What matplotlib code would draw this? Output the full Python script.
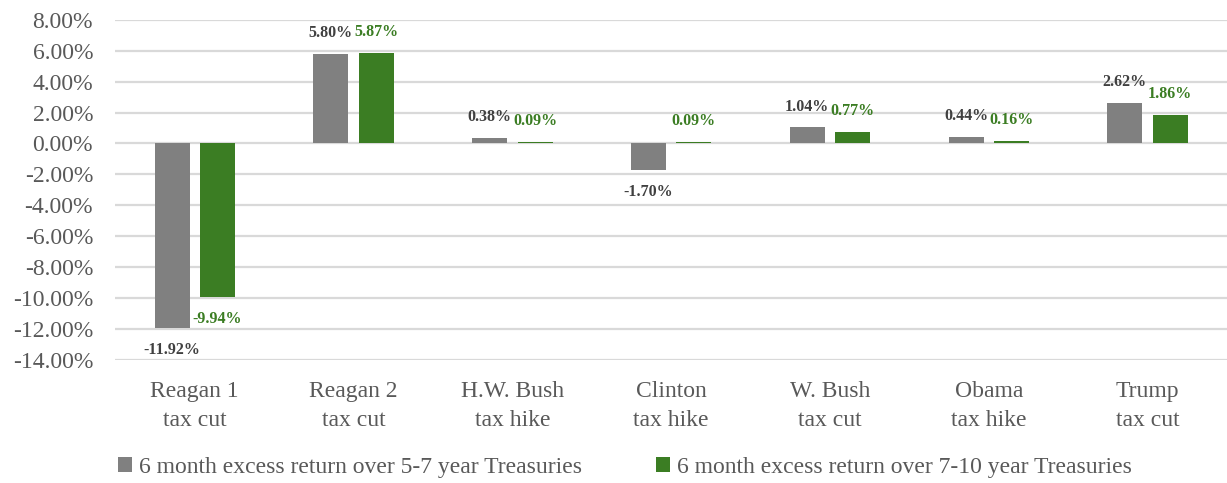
import matplotlib.pyplot as plt
import numpy as np
from matplotlib.ticker import FuncFormatter

plt.rcParams['font.family'] = ['Liberation Serif', 'DejaVu Serif']

# values
categories = ["Reagan 1\ntax cut", "Reagan 2\ntax cut", "H.W. Bush\ntax hike",
              "Clinton\ntax hike", "W. Bush\ntax cut", "Obama\ntax hike", "Trump\ntax cut"]
ret_5_7 = [-11.92, 5.80, 0.38, -1.70, 1.04, 0.44, 2.62]
ret_7_10 = [-9.94, 5.87, 0.09, 0.09, 0.77, 0.16, 1.86]
names = ["6 month excess return over 5-7 year Treasuries",
         "6 month excess return over 7-10 year Treasuries"]

gray = "#808080"
green = "#3B7D23"
tick_col = "#595959"

fig = plt.figure(figsize=(12.27, 4.83), dpi=100)
ax = fig.add_axes([0.094, 0.255, 0.906, 0.704])

x = np.arange(len(categories))
w = 0.22
off = 0.143
b1 = ax.bar(x - off, ret_5_7, w, color=gray, label=names[0], zorder=3)
b2 = ax.bar(x + off, ret_7_10, w, color=green, label=names[1], zorder=3)

for bars, vals, col in [(b1, ret_5_7, "#404040"), (b2, ret_7_10, green)]:
    for b, v in zip(bars, vals):
        cx = b.get_x() + b.get_width() / 2
        dy = 15 if v >= 0 else -16
        ax.annotate(f"{v:.2f}%", (cx, v), xytext=(0, dy), textcoords="offset points",
                    ha="center", va="center", fontsize=11.5, fontweight="bold", color=col)

ax.set_xlim(-0.5, len(categories) - 0.5)
ax.set_ylim(-14, 8)
ax.set_yticks(np.arange(-14, 9, 2))
ax.yaxis.set_major_formatter(FuncFormatter(lambda v, p: f"{v:.2f}%"))
ax.set_xticks(x)
ax.set_xticklabels(categories, linespacing=1.55)
ax.tick_params(axis="both", length=0, labelsize=17, colors=tick_col)
ax.tick_params(axis="x", pad=15)
ax.tick_params(axis="y", pad=16)
ax.grid(axis="y", color="#d9d9d9", linewidth=1.6, zorder=0)
for s in ax.spines.values():
    s.set_visible(False)

fig.legend(loc="center left", bbox_to_anchor=(0.079, 0.032), ncol=2, frameon=False,
           fontsize=17, labelcolor=tick_col, handlelength=0.6, handleheight=0.6,
           handletextpad=0.3, columnspacing=3.1)

fig.savefig("out.png", dpi=100)
